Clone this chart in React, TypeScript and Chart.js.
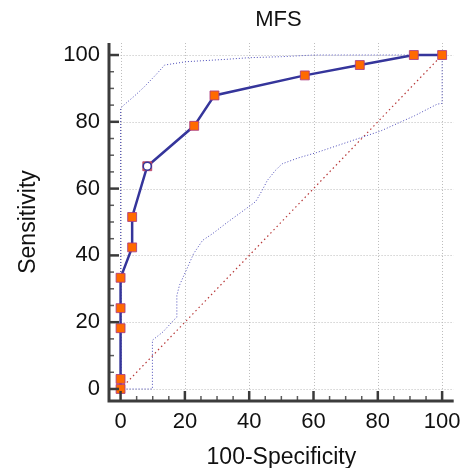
import React, { useEffect, useRef } from 'react';
import { Chart, registerables } from 'chart.js';

Chart.register(...registerables);

// ROC curve (100-Specificity, Sensitivity)
const rocX = [0, 0, 0, 0, 0, 3.6, 3.6, 8.3, 22.9, 29.2, 57.3, 74.4, 91.2, 100];
const rocY = [0, 3.0, 18.2, 24.2, 33.3, 42.4, 51.5, 66.7, 78.8, 87.9, 93.9, 97.0, 100, 100];

// Optimal criterion point
const optX = [8.3];
const optY = [66.7];

// Upper confidence bound
const upperX = [0, 0, 1.0, 4.4, 7.3, 11.1, 13.7, 20.4, 32.7, 40, 50, 60, 100];
const upperY = [0, 84, 85, 87.8, 90.4, 94.2, 97, 98, 98.7, 99.2, 99.5, 100, 100];

// Lower confidence bound
const lowerX = [0, 9.9, 9.9, 13.2, 16.5, 17.5, 17.5, 18.3, 20.4, 22.7, 25.5, 28.6, 33.2, 38.9, 42, 44, 45.6, 48.1, 50.2, 55.3, 61, 71.8, 81, 91.4, 98.5, 100, 100];
const lowerY = [0, 0, 14.6, 17.1, 20.6, 21.5, 28, 31, 35.5, 40.5, 44.5, 46.5, 49.9, 53.9, 56.1, 59.4, 62.4, 65.4, 67.4, 69.2, 70.8, 74.3, 77.3, 81.8, 85.3, 85.5, 100];

// Reference diagonal
const diagX = [0, 100];
const diagY = [0, 100];

const majorTicks = [0, 20, 40, 60, 80, 100];
const minorStep = 5;

const TITLE = 'MFS';
const X_TITLE = '100-Specificity';
const Y_TITLE = 'Sensitivity';

const FONT = "'Liberation Sans', Arial, sans-serif";

const pts = (xs: number[], ys: number[]) => xs.map((v, i) => ({ x: v, y: ys[i] }));

const framePlugin = {
  id: 'frame',
  beforeDatasetsDraw(chart: any) {
    const { ctx, chartArea: a, scales } = chart;
    const x = scales.x, y = scales.y;
    ctx.save();
    ctx.strokeStyle = '#bcbcbc';
    ctx.lineWidth = 1;
    ctx.setLineDash([1, 2]);
    const x0 = x.getPixelForValue(0);
    const y0 = y.getPixelForValue(0);
    for (const v of majorTicks) {
      const px = Math.round(x.getPixelForValue(v)) + 0.5;
      ctx.beginPath();
      ctx.moveTo(px, y0);
      ctx.lineTo(px, a.top);
      ctx.stroke();
      const py = Math.round(y.getPixelForValue(v)) + 0.5;
      ctx.beginPath();
      ctx.moveTo(x0, py);
      ctx.lineTo(a.right, py);
      ctx.stroke();
    }
    ctx.restore();
  },
  afterDraw(chart: any) {
    const { ctx, chartArea: a, scales } = chart;
    const x = scales.x, y = scales.y;
    ctx.save();
    ctx.setLineDash([]);
    // ticks
    for (let v = 0; v <= 100; v += minorStep) {
      const major = v % 20 === 0;
      const len = major ? 10 : 5;
      ctx.strokeStyle = major ? '#3a3a3a' : '#5a5a5a';
      ctx.lineWidth = major ? 2.5 : 1.5;
      const px = x.getPixelForValue(v);
      ctx.beginPath();
      ctx.moveTo(px, a.bottom);
      ctx.lineTo(px, a.bottom - len);
      ctx.stroke();
      const py = y.getPixelForValue(v);
      ctx.beginPath();
      ctx.moveTo(a.left, py);
      ctx.lineTo(a.left + len, py);
      ctx.stroke();
    }
    // spines
    ctx.strokeStyle = '#3c3c3c';
    ctx.lineWidth = 3;
    ctx.beginPath();
    ctx.moveTo(a.left, a.top);
    ctx.lineTo(a.left, a.bottom);
    ctx.lineTo(a.right, a.bottom);
    ctx.stroke();
    // title
    ctx.fillStyle = '#111';
    ctx.font = `22px ${FONT}`;
    ctx.textAlign = 'center';
    ctx.textBaseline = 'middle';
    ctx.fillText(TITLE, (a.left + a.right) / 2 - 3, 12);
    ctx.restore();
  },
};

export default function App() {
  const ref = useRef<HTMLCanvasElement>(null);
  useEffect(() => {
    const canvas = ref.current!;
    const chart = new Chart(canvas, {
      type: 'line',
      data: {
        datasets: [
          {
            data: pts(optX, optY),
            showLine: false,
            pointStyle: 'circle',
            pointRadius: 4,
            pointBackgroundColor: '#ffffff',
            pointBorderColor: '#35359b',
            pointBorderWidth: 1.5,
            order: 0,
          },
          {
            data: pts(rocX, rocY),
            borderColor: '#35359b',
            borderWidth: 2.5,
            tension: 0,
            pointStyle: 'rect',
            pointRadius: 6.3,
            pointBackgroundColor: '#ff6a00',
            pointBorderColor: 'rgba(170,60,130,0.85)',
            pointBorderWidth: 1,
            order: 1,
          },
          {
            data: pts(upperX, upperY),
            borderColor: '#4a4ab8',
            borderWidth: 1,
            borderDash: [1, 2],
            pointRadius: 0,
            tension: 0,
            order: 2,
          },
          {
            data: pts(lowerX, lowerY),
            borderColor: '#4a4ab8',
            borderWidth: 1,
            borderDash: [1, 2],
            pointRadius: 0,
            tension: 0,
            order: 3,
          },
          {
            data: pts(diagX, diagY),
            borderColor: '#b83a3a',
            borderWidth: 1.2,
            borderDash: [1.5, 3],
            pointRadius: 0,
            order: 4,
          },
        ],
      },
      options: {
        animation: false,
        responsive: false,
        devicePixelRatio: 1,
        events: [],
        layout: { padding: { top: 35, right: 4.3, bottom: 0, left: 0 } },
        plugins: {
          legend: { display: false },
          tooltip: { enabled: false },
          title: { display: false },
        },
        scales: {
          x: {
            type: 'linear',
            min: -3.6,
            max: 103.6,
            afterBuildTicks: (s: any) => {
              s.ticks = majorTicks.map((v) => ({ value: v }));
            },
            afterFit: (s: any) => {
              s.height = 67;
              s.paddingLeft = 0;
              s.paddingRight = 0;
            },
            grid: { display: false, drawTicks: false },
            border: { display: false },
            ticks: {
              autoSkip: false,
              maxRotation: 0,
              padding: 7.5,
              color: '#111',
              font: { family: FONT, size: 22 },
            },
            title: {
              display: true,
              text: X_TITLE,
              color: '#111',
              font: { family: FONT, size: 23 },
              padding: { top: 0, bottom: -3 },
            },
          },
          y: {
            type: 'linear',
            min: -3.6,
            max: 103.6,
            afterBuildTicks: (s: any) => {
              s.ticks = majorTicks.map((v) => ({ value: v }));
            },
            afterFit: (s: any) => {
              s.width = 101;
              s.paddingTop = 0;
              s.paddingBottom = 0;
            },
            grid: { display: false, drawTicks: false },
            border: { display: false },
            ticks: {
              autoSkip: false,
              padding: 9,
              color: '#111',
              font: { family: FONT, size: 22 },
            },
            title: {
              display: true,
              text: Y_TITLE,
              color: '#111',
              font: { family: FONT, size: 23 },
              padding: { top: 7, bottom: 0 },
            },
          },
        },
      },
      plugins: [framePlugin],
    } as any);
    return () => chart.destroy();
  }, []);
  return (
    <div style={{ width: 453, height: 460 }}>
      <canvas ref={ref} width={453} height={460} style={{ display: 'block' }} />
    </div>
  );
}
